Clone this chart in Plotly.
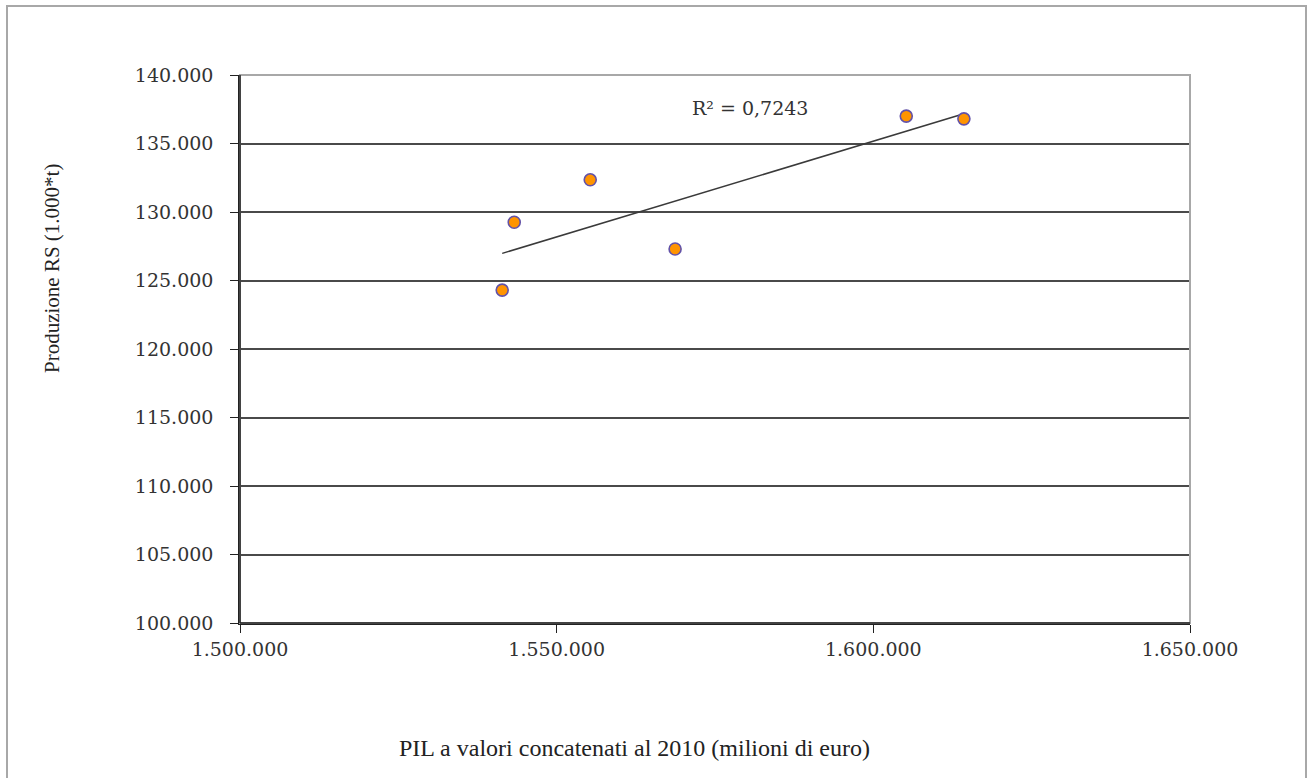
import numpy as np
import plotly.graph_objects as go

# Data
pil = [1541400, 1543300, 1555300, 1568700, 1605200, 1614300]
produzione = [124300, 129250, 132350, 127300, 137000, 136800]
r2_label = "R² = 0,7243"
x_ticks = [1500000, 1550000, 1600000, 1650000]
x_tick_text = ["1.500.000", "1.550.000", "1.600.000", "1.650.000"]
y_ticks = [100000, 105000, 110000, 115000, 120000, 125000, 130000, 135000, 140000]
y_tick_text = ["100.000", "105.000", "110.000", "115.000", "120.000",
               "125.000", "130.000", "135.000", "140.000"]
x_title = "PIL a valori concatenati al 2010 (milioni di euro)"
y_title = "Produzione RS (1.000*t)"

# Linear trend line from the data
slope, intercept = np.polyfit(pil, produzione, 1)
tx = [min(pil), max(pil)]
ty = [slope * v + intercept for v in tx]

W, H = 1312, 778
L, R, T, B = 240, 122, 75, 155
pw, ph = W - L - R, H - T - B

def px(xp):
    return (xp - L) / pw

def py(yp):
    return (H - B - yp) / ph

fig = go.Figure()
fig.add_trace(go.Scatter(x=tx, y=ty, mode="lines",
                         line=dict(color="#3a3a3a", width=1.5),
                         showlegend=False, hoverinfo="skip"))
fig.add_trace(go.Scatter(x=pil, y=produzione, mode="markers",
                         marker=dict(size=12, color="#FF9400",
                                     line=dict(color="#6252A8", width=1.6)),
                         showlegend=False))

tick_font = dict(family="DejaVu Serif", size=19, color="#333333")
fig.update_xaxes(range=[1500000, 1650000], tickvals=x_ticks, ticktext=x_tick_text,
                 showgrid=False, zeroline=False, showline=True, linecolor="#222222",
                 linewidth=1.5, ticks="outside", ticklen=8, tickcolor="#222222",
                 tickwidth=1.2, tickfont=tick_font)
fig.update_yaxes(range=[100000, 140000], tickvals=y_ticks, ticktext=y_tick_text,
                 showgrid=True, gridcolor="#4a4a4a", gridwidth=1.5, zeroline=False,
                 showline=True, linecolor="#222222", linewidth=1.5, ticks="outside",
                 ticklen=8, tickcolor="#222222", tickwidth=1.2, tickfont=tick_font,
                 ticklabelstandoff=13)

shapes = [
    # plot area border (top/right gray)
    dict(type="rect", xref="paper", yref="paper", x0=0, x1=1, y0=0, y1=1,
         line=dict(color="#a8a8a8", width=2), layer="above"),
    # outer chart frame
    dict(type="rect", xref="paper", yref="paper", x0=px(7), x1=px(1306),
         y0=py(800), y1=py(6), line=dict(color="#a8a8a8", width=2), layer="below"),
    # black left & bottom axes over the gray border
    dict(type="line", xref="paper", yref="paper", x0=0, x1=0, y0=0, y1=1,
         line=dict(color="#222222", width=1.5), layer="above"),
    dict(type="line", xref="paper", yref="paper", x0=0, x1=1, y0=0, y1=0,
         line=dict(color="#222222", width=1.5), layer="above"),
]

annotations = [
    dict(text=r2_label, xref="paper", yref="paper", x=px(750), y=py(108),
         xanchor="center", yanchor="middle", showarrow=False,
         font=dict(family="DejaVu Serif", size=19, color="#333333")),
    dict(text=x_title, xref="paper", yref="paper", x=px(634), y=py(748),
         xanchor="center", yanchor="middle", showarrow=False,
         font=dict(family="Liberation Serif", size=24, color="#222222")),
    dict(text=y_title, xref="paper", yref="paper", x=px(52), y=py(269), textangle=-90,
         xanchor="center", yanchor="middle", showarrow=False,
         font=dict(family="Liberation Serif", size=21, color="#222222")),
]

fig.update_layout(width=W, height=H, margin=dict(l=L, r=R, t=T, b=B, autoexpand=False),
                  paper_bgcolor="white", plot_bgcolor="white",
                  shapes=shapes, annotations=annotations, showlegend=False)

fig.write_html("out.html", config={"displayModeBar": False},
               post_script="document.body.style.margin='0px';document.body.style.overflow='hidden';")
